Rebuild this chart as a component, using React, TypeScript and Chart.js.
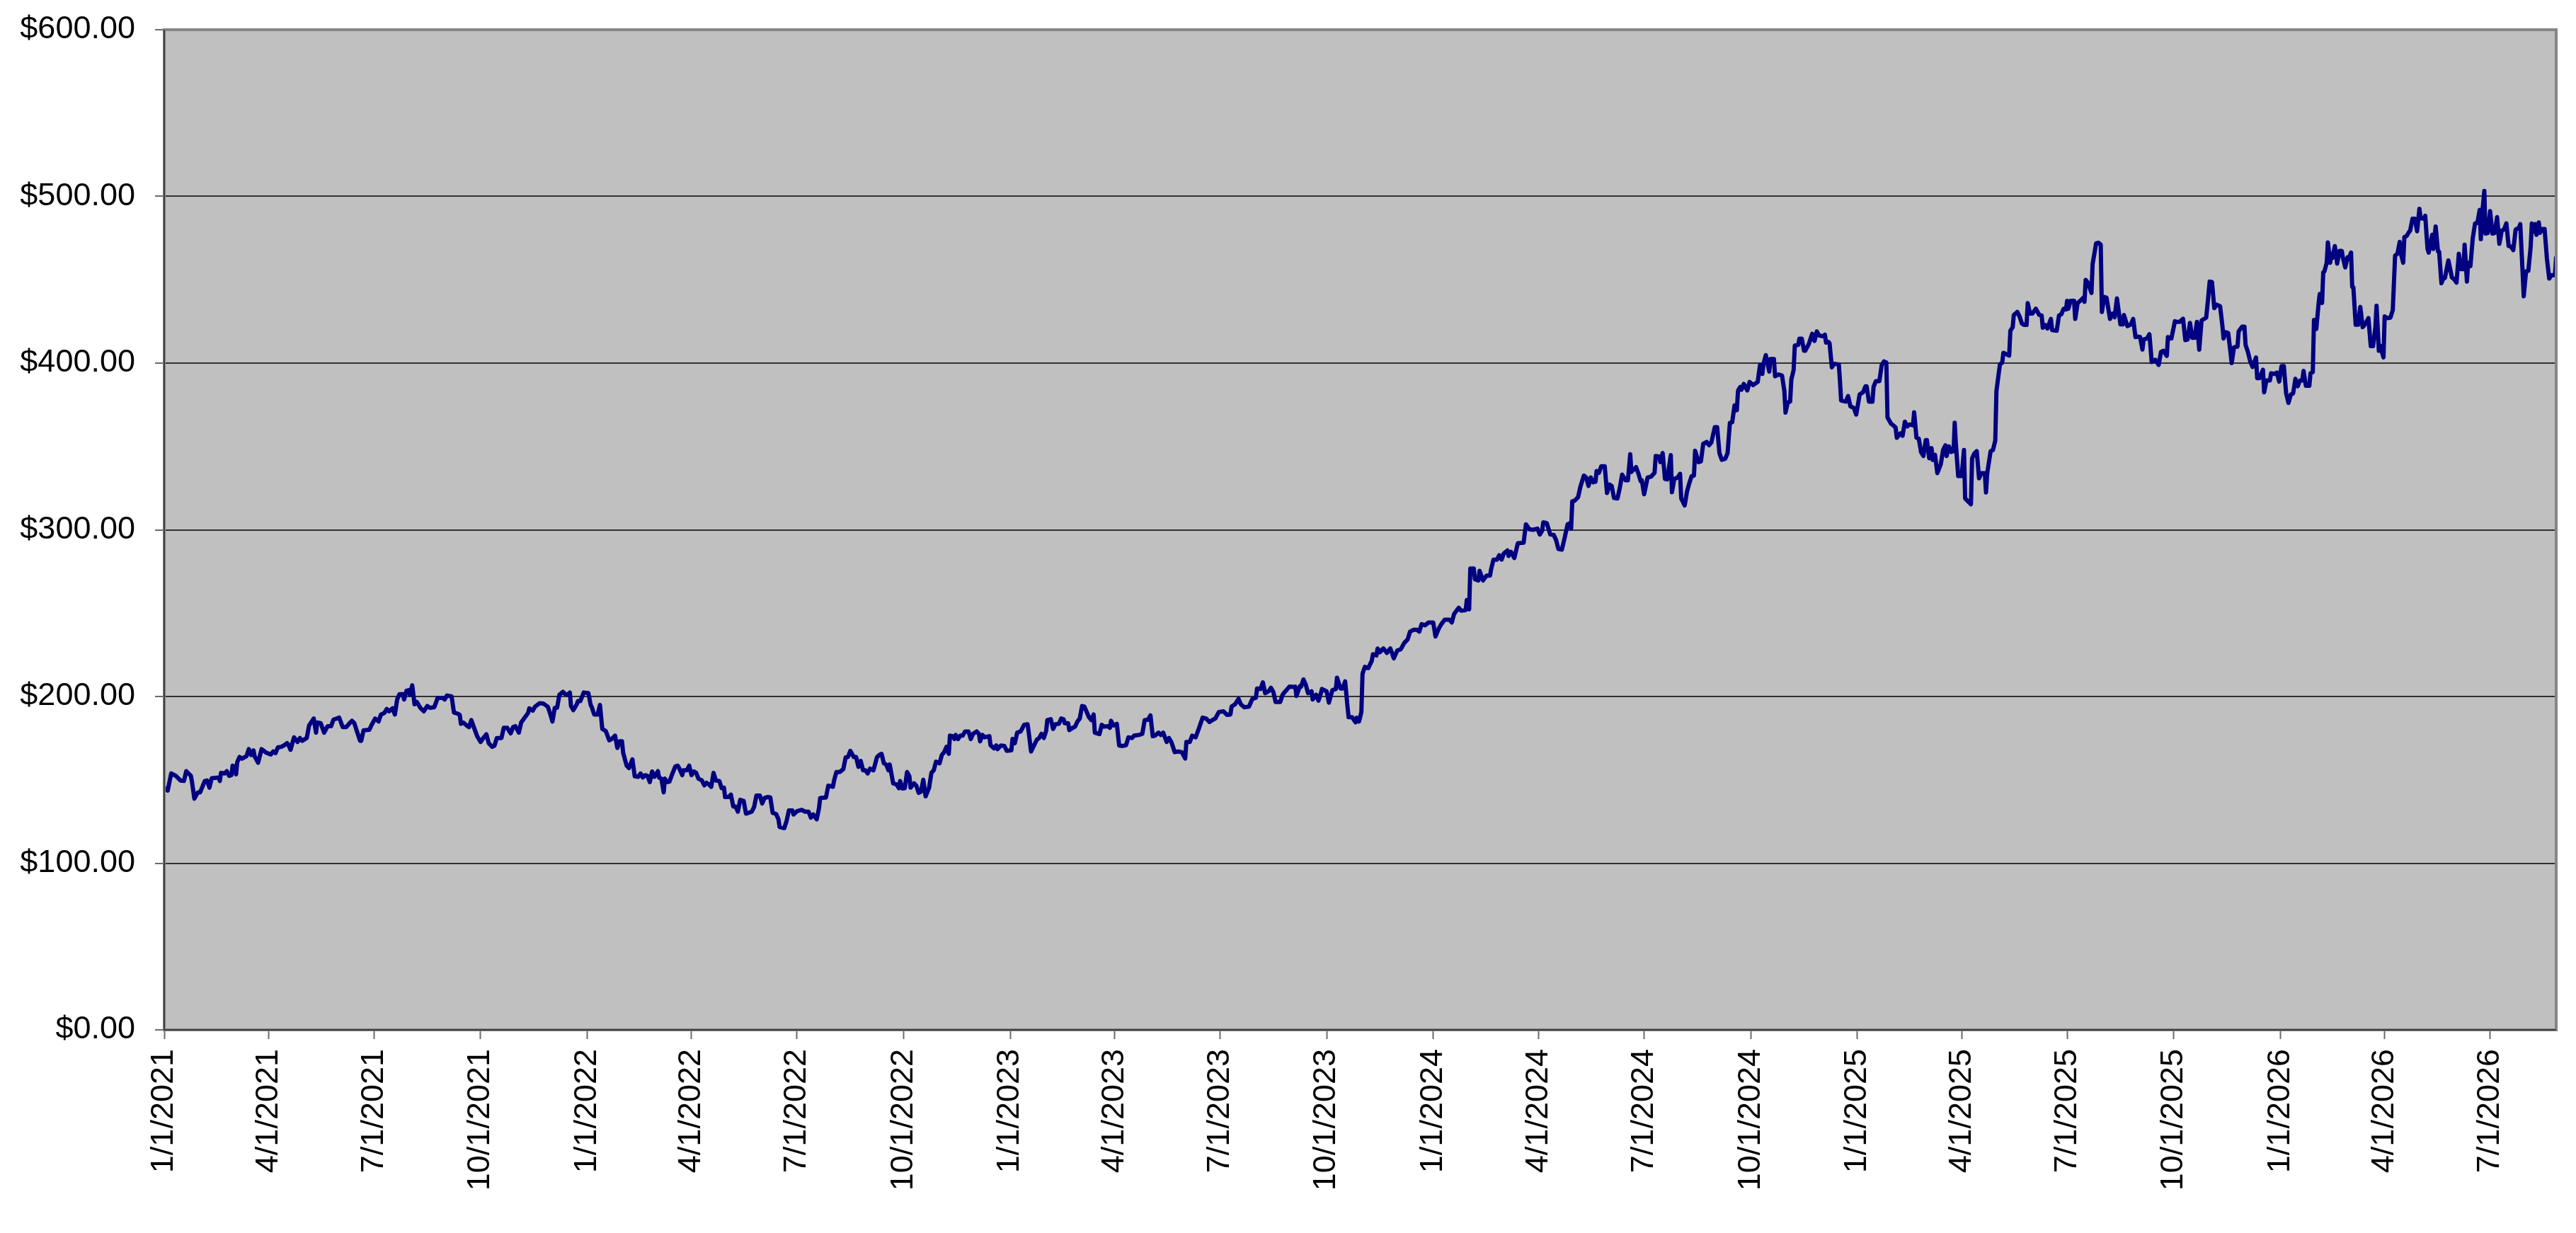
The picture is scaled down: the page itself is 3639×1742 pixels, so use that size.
import React, { useEffect, useRef } from "react";
import { Chart, registerables } from "chart.js";

Chart.register(...registerables);

// day 0 = 1/1/2021
const startDate = Date.UTC(2021, 0, 1);

const xTickLabels = [
  "1/1/2021", "4/1/2021", "7/1/2021", "10/1/2021",
  "1/1/2022", "4/1/2022", "7/1/2022", "10/1/2022",
  "1/1/2023", "4/1/2023", "7/1/2023", "10/1/2023",
  "1/1/2024", "4/1/2024", "7/1/2024", "10/1/2024",
  "1/1/2025", "4/1/2025", "7/1/2025", "10/1/2025",
  "1/1/2026", "4/1/2026", "7/1/2026",
];

const yMin = 0;
const yMax = 600;
const yStep = 100;

// days since 1/1/2021
const dayOffsets = [
  0, 3, 6, 10, 14, 17, 19, 23, 24, 26, 29, 31, 35, 37, 39, 41, 47, 48, 49, 52, 54, 56, 58, 59, 61, 62, 63, 65, 67, 71,
  73, 75, 77, 78, 81, 84, 88, 92, 94, 96, 98, 101, 103, 106, 107, 109, 112, 115, 117, 119, 123, 125, 127, 129, 131, 132,
  135, 138, 141, 144, 146, 151, 154, 157, 160, 162, 164, 167, 169, 170, 172, 177, 179, 182, 185, 187, 190, 192, 194, 197,
  199, 201, 203, 206, 207, 209, 211, 212, 214, 216, 218, 221, 224, 227, 229, 233, 236, 240, 242, 244, 248, 250, 253, 255,
  256, 258, 261, 263, 265, 267, 270, 273, 275, 278, 280, 283, 285, 287, 291, 293, 296, 299, 301, 303, 306, 308, 311, 314,
  315, 318, 320, 324, 327, 331, 333,
  335, 337, 339, 341, 344, 346, 348, 350, 351, 353, 356, 357, 359, 362, 366, 368, 369, 371, 374, 376, 378, 381, 384, 386,
  389, 391, 393, 395, 396, 399, 401, 404, 406, 409, 411, 413, 415, 417, 419, 421, 423, 426, 427, 429, 431, 432, 434, 436,
  438, 441, 443, 444, 447, 448, 451, 453, 455, 457, 459, 461, 464, 466, 468, 470, 472, 474, 476, 479, 481, 483, 484, 487,
  489, 491, 493, 495, 497, 500, 502, 507, 509, 511, 514, 516, 518, 521, 523, 525, 528, 530, 531, 535, 537, 539, 542, 543,
  546, 550, 553, 556, 558, 560, 563, 565, 566, 571, 573, 577, 578, 580, 583, 586, 588, 590, 592, 595, 597, 599, 601, 603,
  605, 607, 609, 612, 615, 617, 619, 621, 623, 625, 626, 629, 632, 634, 635, 637, 639, 641, 643, 644, 647, 649, 651, 653,
  655, 657, 660, 662, 664, 666, 669, 671, 673, 675,
  677, 678, 680, 682, 683, 685, 687, 689, 691, 694, 696, 698, 701, 703, 704, 706, 708, 712, 713, 716, 718, 719, 722, 725,
  727, 731, 732, 734, 736, 739, 742, 745, 746, 748, 750, 753, 755, 757, 759, 761, 762, 765, 767, 769, 772, 774, 776, 777,
  780, 781, 784, 786, 788, 790, 792, 794, 796, 798, 800, 802, 803, 807, 809, 811, 814, 816, 817, 819, 822, 824, 827, 830,
  832, 835, 837, 841, 844, 846, 849, 851, 853, 855, 858, 860, 862, 865, 867, 869, 872, 875, 878, 881, 882, 885, 887, 890,
  893, 896, 899, 902, 905, 907, 910, 914, 917, 920, 921, 924, 927, 929, 932, 936, 939, 942, 943, 946, 948, 950, 953, 955,
  957, 959, 963, 965, 967, 971, 974, 976, 977, 980, 981, 983, 985, 987, 990, 991, 994, 996, 998, 999, 1003, 1005, 1008,
  1011, 1012, 1015, 1017, 1019,
  1021, 1022, 1025, 1028, 1029, 1031, 1033, 1034, 1036, 1039, 1042, 1043, 1046, 1047, 1049, 1052, 1055, 1058, 1061, 1064,
  1067, 1070, 1073, 1075, 1078, 1081, 1083, 1085, 1088, 1091, 1095, 1097, 1100, 1102, 1105, 1109, 1111, 1113, 1116, 1117,
  1119, 1123, 1124, 1126, 1127, 1130, 1131, 1134, 1135, 1138, 1141, 1144, 1145, 1147, 1150, 1152, 1154, 1156, 1159, 1160,
  1162, 1165, 1168, 1173, 1175, 1178, 1181, 1185, 1187, 1189, 1190, 1193, 1196, 1199, 1201, 1203, 1206, 1208, 1211, 1213,
  1214, 1215, 1217, 1220, 1222, 1225, 1227, 1229, 1231, 1233, 1235, 1236, 1238, 1240, 1243, 1245, 1247, 1249, 1251, 1254,
  1256, 1258, 1261, 1263, 1265, 1266, 1270, 1272, 1274, 1275, 1277, 1280, 1283, 1286, 1287, 1290, 1291, 1293, 1295, 1297,
  1300, 1301, 1303, 1306, 1308, 1309, 1312, 1314, 1316, 1318, 1320, 1321, 1324, 1326, 1328, 1331, 1333, 1335, 1338, 1340,
  1342, 1344, 1347, 1349, 1351, 1353, 1355, 1357, 1358, 1360,
  1361, 1363, 1366, 1368, 1371, 1375, 1377, 1379, 1380, 1382, 1385, 1386, 1389, 1390, 1393, 1396, 1398, 1399, 1401, 1403,
  1404, 1406, 1407, 1410, 1411, 1413, 1415, 1416, 1419, 1420, 1422, 1424, 1426, 1428, 1431, 1433, 1434, 1436, 1437, 1439,
  1441, 1445, 1446, 1447, 1451, 1453, 1455, 1458, 1460, 1463, 1466, 1468, 1469, 1471, 1474, 1475, 1477, 1480, 1482, 1484,
  1486, 1487, 1490, 1492, 1494, 1495, 1498, 1500, 1502, 1504, 1506, 1509, 1510, 1512, 1514, 1516, 1518, 1520, 1521, 1523,
  1525, 1526, 1528, 1530, 1533, 1535, 1537, 1538, 1540, 1542, 1544, 1545, 1546, 1548, 1551, 1553, 1554, 1556, 1559, 1560,
  1562, 1564, 1566, 1568, 1571, 1572, 1573, 1576, 1578, 1580, 1581, 1584, 1586, 1587, 1590, 1592, 1593, 1595, 1596, 1599,
  1601, 1603, 1605, 1607, 1608, 1610, 1612, 1615, 1618, 1620, 1621, 1623, 1625, 1628, 1629, 1633, 1635, 1637, 1639, 1641,
  1642, 1643, 1645, 1648, 1649, 1651, 1654, 1656, 1657, 1658, 1660, 1663, 1664, 1667, 1669, 1671, 1672, 1674, 1676, 1679,
  1681, 1683, 1685, 1688, 1690, 1691, 1694, 1697, 1699, 1701,
  1703, 1705, 1707, 1708, 1711, 1713, 1714, 1715, 1718, 1721, 1723, 1725, 1728, 1729, 1732, 1735, 1737, 1739, 1742, 1744,
  1746, 1748, 1750, 1752, 1754, 1756, 1758, 1762, 1763, 1765, 1767, 1769, 1771, 1774, 1776, 1777, 1779, 1781, 1783, 1784,
  1786, 1789, 1790, 1793, 1795, 1796, 1798, 1800, 1802, 1805, 1806, 1808, 1811, 1812, 1814, 1817, 1818, 1821, 1823, 1825,
  1827, 1829, 1831, 1833, 1835, 1837, 1839, 1841, 1843, 1845, 1846, 1848, 1851, 1852, 1854, 1855, 1857, 1859, 1860, 1862,
  1863, 1864, 1866, 1867, 1869, 1870, 1871, 1873, 1875, 1877, 1879, 1880, 1882, 1884, 1885, 1887, 1888, 1889, 1891, 1893,
  1895, 1897, 1898, 1900, 1902, 1904, 1906, 1908, 1909, 1911, 1912, 1915, 1916, 1918, 1921, 1923, 1925, 1927, 1929, 1930,
  1932, 1933, 1935, 1937, 1938, 1940, 1942, 1944, 1946, 1947, 1950, 1951, 1953, 1954, 1957, 1958, 1960, 1962, 1963, 1965,
  1967, 1968, 1971, 1974, 1976, 1978, 1980, 1982, 1984, 1985, 1987, 1988, 1990, 1992, 1994, 1996, 1998, 1999, 2000, 2002,
  2003, 2005, 2007, 2009, 2011, 2013, 2015, 2017, 2019, 2021, 2023, 2025, 2027, 2029, 2032, 2033, 2035, 2036, 2038, 2040,
  2042, 2043, 2044, 2046, 2047, 2049, 2050, 2052, 2054, 2056, 2058, 2060, 2063, 2064,
];

const closePrices = [
  145.3, 143.6, 153.8, 152.4, 149.6, 149.3, 155.2, 152.4, 148.6, 138.7, 142.5, 142.5, 149.3, 149.6, 145.3, 151.0, 151.4,
  149.3, 154.2, 153.8, 155.2, 152.4, 152.8, 158.5, 158.0, 153.3, 160.6, 163.7, 162.7, 164.2, 168.4, 164.9, 167.7, 164.2,
  160.3, 168.4, 166.3, 165.2, 167.0, 166.0, 169.4, 169.8, 170.5, 172.0, 171.2, 168.0, 175.5, 172.7, 175.1, 173.4, 175.1,
  182.6, 184.7, 186.8, 178.3, 184.4, 184.0, 178.3, 182.2, 182.2, 186.1, 187.3, 181.6, 181.6, 184.0, 185.4, 184.0, 177.6,
  173.4, 173.4, 179.7, 180.0, 183.0, 186.8, 185.0, 189.2, 190.1, 192.5, 191.1, 192.9, 189.2, 198.2, 201.4, 201.4, 198.2,
  203.4, 203.8, 201.0, 206.7, 195.3, 196.7, 193.2, 191.1, 194.3, 193.2, 193.5, 199.2, 199.2, 198.2, 200.6, 200.0, 190.4,
  189.7, 189.0, 183.6, 184.4, 182.6, 181.6, 185.8, 181.9, 176.2, 172.7, 174.8, 177.3, 172.0, 169.8, 170.5, 175.1, 175.1,
  181.2, 181.2, 177.9, 181.6, 182.2, 178.3, 184.4, 187.3, 190.1, 192.9, 191.5, 193.9, 196.0, 195.8, 193.9, 189.7,
  185.0, 193.2, 193.2, 201.0, 202.8, 201.4, 201.0, 202.4, 194.3, 191.8, 195.3, 197.2, 197.2, 202.4, 202.0, 194.9, 193.5,
  189.2, 189.2, 194.9, 180.5, 179.3, 173.7, 174.5, 176.5, 169.1, 173.1, 173.1, 166.3, 158.5, 157.1, 162.3, 152.1, 151.8,
  153.8, 151.4, 152.8, 152.4, 148.6, 155.0, 151.8, 155.2, 151.4, 150.7, 142.5, 150.7, 148.6, 149.0, 152.8, 158.0, 158.5,
  157.5, 152.8, 155.7, 155.7, 158.5, 152.8, 155.0, 154.2, 150.7, 149.6, 146.7, 148.2, 147.2, 145.8, 154.2, 149.6, 149.3,
  145.0, 145.3, 139.7, 139.7, 141.1, 134.0, 134.0, 130.9, 138.0, 137.3, 129.7, 130.9, 133.7, 140.5, 140.5, 135.8, 139.1,
  139.7, 139.4, 130.2, 129.5, 126.3, 121.7, 121.0, 125.2, 131.6, 131.6, 129.2, 131.2, 132.0, 130.9, 130.9, 127.3, 129.2,
  126.3, 133.0, 139.1, 139.4, 146.5, 145.8, 149.6, 154.7, 154.7, 156.4, 163.5, 163.7, 167.4, 163.7, 163.7, 157.8, 161.3,
  155.7, 155.7, 153.8, 156.7, 155.7, 163.5, 164.9, 165.6, 159.9, 159.2, 155.7, 159.2, 147.9, 147.2, 145.0, 149.3, 144.8,
  145.0, 154.7, 152.1, 145.3, 147.9, 146.5, 142.2, 142.9, 150.0, 140.1, 145.3, 154.2, 155.7, 160.9, 159.9, 164.9, 166.6,
  169.8,
  165.6, 176.5, 176.2, 174.5, 176.9, 174.5, 176.5, 176.5, 179.0, 179.0, 174.5, 177.6, 179.0, 177.6, 173.1, 176.9, 175.5,
  176.2, 170.8, 168.9, 170.6, 168.4, 170.6, 170.3, 167.4, 167.7, 174.5, 172.0, 178.3, 179.0, 183.0, 183.3, 178.3, 167.0,
  169.9, 174.1, 175.1, 177.6, 175.1, 179.3, 185.8, 186.4, 180.5, 183.3, 183.6, 186.8, 186.4, 184.0, 184.0, 179.8, 181.2,
  181.9, 185.0, 186.8, 194.3, 193.9, 190.7, 187.5, 185.8, 189.2, 178.3, 177.4, 183.0, 181.9, 182.2, 181.2, 185.4, 182.6,
  183.6, 170.6, 170.3, 170.8, 175.5, 175.1, 176.5, 176.9, 177.6, 185.8, 186.1, 188.7, 176.2, 176.5, 178.3, 176.9, 178.3,
  172.7, 175.1, 172.7, 166.6, 167.0, 166.6, 162.8, 172.7, 172.7, 176.5, 175.5, 181.2, 187.3, 186.8, 184.7, 186.1, 186.8,
  190.7, 191.1, 189.0, 189.2, 193.9, 195.3, 198.6, 195.3, 193.5, 193.9, 198.6, 199.2, 204.8, 204.5, 208.5, 202.0, 203.1,
  205.2, 202.8, 196.7, 196.7, 201.0, 202.8, 205.9, 205.7, 205.9, 200.3, 206.2, 205.9, 210.2, 207.1, 202.0, 203.1, 198.2,
  201.0, 197.5, 201.7, 204.5, 203.1, 196.3, 203.8, 204.5, 211.3, 204.8, 204.8, 209.1,
  194.3, 187.6, 187.6, 184.5, 187.2, 185.0, 190.6, 213.6, 217.8, 217.0, 221.5, 225.4, 224.6, 228.8, 226.6, 228.8, 226.2,
  228.8, 222.9, 227.6, 228.3, 232.1, 234.3, 238.9, 240.0, 240.0, 238.9, 243.4, 242.7, 244.4, 244.4, 236.0, 241.0, 243.4,
  246.1, 246.1, 244.4, 249.5, 252.3, 253.2, 251.5, 251.8, 257.9, 252.3, 276.7, 276.7, 270.3, 269.6, 275.4, 269.6, 272.5,
  272.5, 276.4, 282.1, 282.1, 284.8, 282.1, 285.9, 287.6, 284.3, 286.8, 283.1, 291.9, 292.2, 303.3, 300.3, 300.0, 300.7,
  297.2, 299.5, 304.5, 304.0, 297.2, 296.9, 293.9, 288.5, 288.1, 293.9, 303.3, 304.0, 300.7, 317.1, 317.4, 319.6, 325.8,
  332.5, 331.4, 326.3, 331.4, 328.5, 328.8, 335.2, 334.2, 338.1, 338.1, 322.1, 327.2, 326.3, 319.1, 318.8, 325.1, 333.1,
  329.7, 329.7, 345.3, 334.7, 337.6, 333.9, 329.2, 329.7, 321.3, 331.4, 331.9, 334.2, 344.3, 344.0, 340.6, 346.0, 330.5,
  330.2, 344.8, 322.5, 330.5, 331.4, 333.6, 318.8, 314.6, 323.0, 328.0, 332.2, 332.5, 347.4, 340.6, 341.0, 351.6, 352.7,
  350.7, 352.4, 361.6, 361.6, 346.0, 342.0, 342.6, 346.0, 364.2, 364.5, 374.6, 371.7, 383.5, 385.7,
  384.0, 387.5, 383.6, 388.7, 386.8, 388.7, 398.9, 393.5, 399.6, 404.8, 394.9, 402.4, 402.4, 392.1, 393.2, 392.5, 383.3,
  370.3, 376.5, 376.9, 390.1, 395.8, 410.5, 410.9, 414.7, 414.7, 407.4, 407.4, 411.3, 413.3, 417.6, 413.3, 419.0, 416.6,
  416.1, 417.0, 412.3, 412.7, 411.9, 397.5, 399.6, 399.2, 389.0, 377.6, 376.9, 380.2, 374.1, 373.1, 369.1, 381.2, 382.6,
  386.1, 386.1, 376.9, 376.9, 385.8, 389.2, 389.2, 398.9, 401.0, 400.3, 367.4, 363.7, 362.7, 361.3, 355.2, 357.8, 356.4,
  364.9, 362.0, 363.2, 362.7, 370.5, 355.2, 354.7, 346.5, 344.3, 353.8, 353.8, 342.9, 349.0, 341.9, 345.0, 334.0, 339.4,
  347.9, 350.7, 344.3, 350.0, 346.7, 347.2, 364.2, 351.4, 332.3, 332.3, 347.9, 318.8, 317.4, 315.3, 342.9, 345.8, 347.2,
  330.9, 334.0, 334.0, 322.4, 333.7, 347.2, 347.9, 353.5, 383.3, 399.2, 400.3, 406.2, 405.2, 404.5, 419.4, 421.5, 428.9,
  430.7, 427.9, 423.7, 422.9, 422.9, 436.0, 429.7, 429.7, 432.6, 428.9, 428.6, 421.2, 422.9, 420.8, 426.5, 419.8, 419.4,
  428.6, 429.3, 432.6, 432.2, 437.4, 432.6, 437.4, 437.4, 426.5, 436.0, 437.8, 439.2, 436.8, 449.9, 448.2, 442.1, 459.5,
  471.8, 472.2, 471.1, 430.7, 439.7, 439.2, 426.5, 429.7, 427.5, 438.8, 423.2, 423.2, 428.9, 422.2, 423.2, 426.5, 415.6,
  415.9, 415.6, 408.1, 414.2, 414.8, 417.3, 409.1, 400.6, 402.0, 398.9, 406.7, 407.4, 404.3, 415.6, 414.8, 425.1, 424.7,
  424.7, 426.6, 413.8, 414.2, 424.1, 415.2, 415.2, 424.7, 408.1, 425.6, 427.3, 434.1, 448.9, 448.6, 433.0, 435.1, 434.1,
  422.3, 414.8, 418.5, 418.0, 406.3, 400.0, 409.5, 409.9, 419.0, 421.9, 421.9, 410.9, 406.7, 401.0, 397.7, 403.4, 391.0,
  391.0, 396.0, 382.5, 389.6, 389.6, 393.9, 393.5, 394.3, 388.9, 398.2, 398.2, 381.8, 376.1, 381.1, 381.8, 390.6, 386.1,
  389.6, 389.6, 395.3, 386.4, 386.4, 393.9, 394.6, 425.9, 420.5, 435.8, 441.5, 436.1, 454.5, 455.0, 460.2, 472.4, 460.2,
  465.6, 463.1, 470.2, 459.7, 467.3, 467.3, 463.1, 457.4, 463.5, 462.5, 466.3, 445.7, 445.5, 423.0, 423.0, 433.7, 421.6,
  422.3, 424.4, 427.0, 410.2, 410.2, 421.6, 434.4, 407.4, 410.5, 403.4, 428.0, 427.0, 427.3, 431.8, 464.5, 465.6, 472.7,
  465.6, 460.2, 475.6, 476.3, 478.7, 479.5, 486.6, 486.6, 479.1, 492.6, 486.9, 486.6, 488.4, 468.5, 466.3, 477.0, 468.5,
  482.0, 467.0, 466.8, 447.9, 451.4, 451.1, 461.6, 451.4, 450.3, 448.3, 465.6, 456.4, 456.4, 471.0, 448.9, 460.2, 458.2,
  474.9, 483.8, 484.1, 491.9, 474.4, 488.4, 503.3, 477.7, 478.1, 491.2, 477.7, 478.1, 487.6, 471.6, 479.5, 480.1, 483.8,
  470.2, 469.9, 467.8, 480.1, 481.3, 483.4, 455.0, 440.1, 455.0, 455.4, 469.9, 483.8, 478.7, 483.4, 477.0, 484.4, 478.1,
  480.5, 480.5, 462.8, 450.7, 452.8, 452.8, 463.9,
];

const dayOf = (label: string) => {
  const [m, d, y] = label.split("/").map(Number);
  return Math.round((Date.UTC(y, m - 1, d) - startDate) / 86400000);
};

const xTickDays = xTickLabels.map(dayOf);

const fontFamily = '"Liberation Sans", Arial, Helvetica, sans-serif';

const plotFrame = {
  id: "plotFrame",
  beforeDraw(chart: any) {
    const { ctx, chartArea } = chart;
    ctx.save();
    ctx.fillStyle = "#c0c0c0";
    ctx.fillRect(chartArea.left, chartArea.top, chartArea.width, chartArea.height);
    ctx.restore();
  },
  afterDraw(chart: any) {
    const { ctx, chartArea } = chart;
    const { left, top, right, bottom } = chartArea;
    ctx.save();
    ctx.strokeStyle = "#858585";
    ctx.lineWidth = 4;
    ctx.strokeRect(left, top, right - left, bottom - top);
    ctx.strokeStyle = "#404040";
    ctx.lineWidth = 2;
    ctx.beginPath();
    ctx.moveTo(left, top);
    ctx.lineTo(left, bottom);
    ctx.lineTo(right, bottom);
    ctx.stroke();
    ctx.restore();
  },
};

const PriceChart = () => {
  const canvasRef = useRef<HTMLCanvasElement | null>(null);

  useEffect(() => {
    const ctx = canvasRef.current?.getContext("2d");
    if (!ctx) return;

    const points = dayOffsets.map((d, i) => ({ x: d, y: closePrices[i] }));

    const chart = new Chart(ctx, {
      type: "line",
      data: {
        datasets: [
          {
            label: "Price",
            data: points,
            borderColor: "#000080",
            borderWidth: 6,
            borderJoinStyle: "round",
            pointRadius: 0,
            tension: 0,
            fill: false,
          },
        ],
      },
      options: {
        animation: false,
        responsive: true,
        maintainAspectRatio: false,
        layout: { autoPadding: false, padding: { top: 42, right: 28, left: 0, bottom: 0 } },
        plugins: {
          legend: { display: false },
          tooltip: { enabled: false },
        },
        scales: {
          x: {
            type: "linear",
            min: dayOffsets[0],
            max: dayOffsets[dayOffsets.length - 1],
            afterBuildTicks: (scale: any) => {
              scale.ticks = xTickDays.map((v) => ({ value: v }));
            },
            afterFit: (scale: any) => {
              scale.height = 287;
              scale.paddingLeft = 0;
              scale.paddingRight = 0;
              scale.paddingTop = 0;
              scale.paddingBottom = 0;
            },
            grid: {
              drawOnChartArea: false,
              drawTicks: true,
              tickLength: 13,
              tickColor: "#6a6a6a",
              tickWidth: 2,
            },
            border: { display: false },
            ticks: {
              autoSkip: false,
              minRotation: 90,
              maxRotation: 90,
              padding: 14,
              color: "#000",
              font: { family: fontFamily, size: 45 },
              callback: (_v: any, i: number) => xTickLabels[i],
            },
          },
          y: {
            min: yMin,
            max: yMax,
            afterFit: (scale: any) => {
              scale.width = 232;
              scale.paddingLeft = 0;
              scale.paddingRight = 0;
              scale.paddingTop = 0;
              scale.paddingBottom = 0;
            },
            grid: {
              color: "#303030",
              lineWidth: 2,
              drawTicks: true,
              tickLength: 13,
              tickColor: "#6a6a6a",
              tickWidth: 2,
            },
            border: { display: false },
            ticks: {
              stepSize: yStep,
              padding: 28,
              color: "#000",
              font: { family: fontFamily, size: 45 },
              callback: (v: any) => "$" + Number(v).toFixed(2),
            },
          },
        },
      },
      plugins: [plotFrame],
    } as any);

    return () => {
      chart.destroy();
    };
  }, []);

  return (
    <div
      style={{
        position: "fixed",
        left: 0,
        top: 0,
        width: "100vw",
        height: "100vh",
        background: "#fff",
      }}
    >
      <canvas ref={canvasRef} />
    </div>
  );
};

export default function App() {
  return <PriceChart />;
}
